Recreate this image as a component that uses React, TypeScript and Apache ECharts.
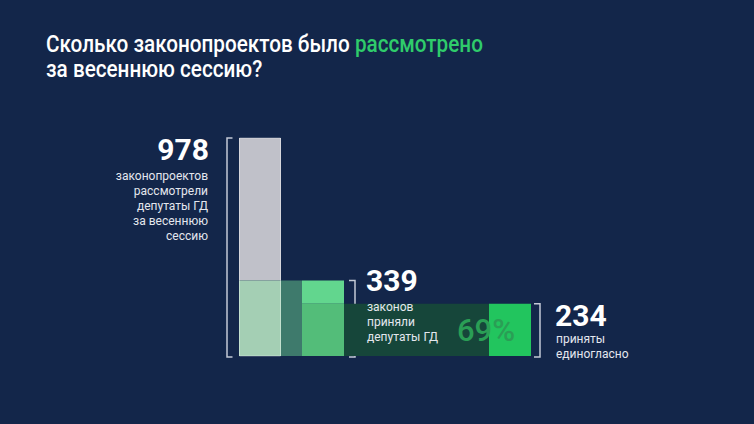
import React, { useEffect, useRef } from "react";
import * as echarts from "echarts";

const categories = ["рассмотрено", "принято", "единогласно"];
const values = [978, 339, 234];
const shareLabel = "69%";
const numberLabels = ["978", "339", "234"];
const captions = [
  ["законопроектов", "рассмотрели", "депутаты ГД", "за весеннюю", "сессию"],
  ["законов", "приняли", "депутаты ГД"],
  ["приняты", "единогласно"],
];

const BG = "#13264a";
const FONT = "Roboto, 'Noto Sans', sans-serif";

export default function App() {
  const ref = useRef<HTMLDivElement>(null);
  useEffect(() => {
    document.body.style.margin = "0";
    const chart = echarts.init(ref.current!, null, { renderer: "svg" });

    const rect = (api: any, x0: number, x1: number, v0: number, v1: number, style: any) => {
      const p0 = api.coord([x0, v0]);
      const p1 = api.coord([x1, v1]);
      return {
        type: "rect",
        shape: { x: p0[0], y: p1[1], width: p1[0] - p0[0], height: p0[1] - p1[1] },
        style,
      };
    };
    const bracket = (api: any, xEdge: number, xTick: number, v: number) => {
      const top = api.coord([xEdge, v]);
      const bot = api.coord([xEdge, 0]);
      const tx = api.coord([xTick, 0])[0];
      return {
        type: "polyline",
        shape: {
          points: [
            [tx, top[1]],
            [top[0], top[1]],
            [bot[0], bot[1] + 1],
            [tx, bot[1] + 1],
          ],
        },
        style: { fill: "none", stroke: "#c3c9d6", lineWidth: 1.5 },
      };
    };

    const renderItem = (params: any, api: any) => {
      const i = params.dataIndex;
      const v = api.value(1);
      if (i === 0) {
        return {
          type: "group",
          children: [
            rect(api, 239, 281, values[1], v, { fill: "#c0c1c9" }),
            rect(api, 239, 281, 0, values[1], { fill: "#a4cfb4" }),
            rect(api, 239.5, 280.5, 0, v, { fill: "none", stroke: "rgba(255,255,255,0.35)", lineWidth: 1 }),
            bracket(api, 227, 232.5, v),
          ],
        };
      }
      if (i === 1) {
        return {
          type: "group",
          children: [
            rect(api, 281, 302, 0, v, { fill: "#3e7a6c" }),
            rect(api, 302, 344, values[2], v, { fill: "#62d68e" }),
            rect(api, 302, 344, 0, values[2], { fill: "#53bd79" }),
            bracket(api, 355, 349, v),
          ],
        };
      }
      return {
        type: "group",
        children: [
          rect(api, 344, 489, 0, v, { fill: "#16463a" }),
          rect(api, 489, 531, 0, v, { fill: "#22c55e" }),
          bracket(api, 540, 534, v),
        ],
      };
    };

    const smallText = (x: number, y: number, lines: string[], align: string) => ({
      type: "text",
      x,
      y,
      z: 100,
      style: {
        text: lines.join("\n"),
        fill: "#e4e7ee",
        font: `400 12px ${FONT}`,
        lineHeight: 15,
        align,
        verticalAlign: "top",
      },
    });
    const bigNumber = (x: number, y: number, text: string, align: string) => ({
      type: "text",
      x,
      y,
      z: 100,
      style: {
        text,
        fill: "#ffffff",
        font: `700 30px ${FONT}`,
        lineHeight: 22,
        align,
        verticalAlign: "middle",
      },
    });

    chart.setOption({
      animation: false,
      backgroundColor: BG,
      grid: { left: 0, right: 0, top: 133.1, bottom: 68 },
      xAxis: { type: "value", min: 0, max: 754, show: false },
      yAxis: { type: "value", min: 0, max: 1000, show: false },
      series: [
        {
          type: "custom",
          name: "законопроекты",
          clip: false,
          renderItem,
          data: values.map((v, i) => ({ name: categories[i], value: [i, v] })),
        },
      ],
      graphic: [
        {
          type: "text",
          x: 46,
          y: 44,
          z: 100,
          scaleX: 0.9,
          style: {
            text: "{w|Сколько законопроектов было }{g|рассмотрено}",
            verticalAlign: "middle",
            rich: {
              w: { fill: "#ffffff", font: `500 23px ${FONT}` },
              g: { fill: "#2fcc6b", font: `500 23px ${FONT}` },
            },
          },
        },
        {
          type: "text",
          x: 46,
          y: 69,
          z: 100,
          scaleX: 0.9,
          style: {
            text: "за весеннюю сессию?",
            fill: "#ffffff",
            font: `500 23px ${FONT}`,
            verticalAlign: "middle",
          },
        },
        bigNumber(209, 149.5, numberLabels[0], "right"),
        smallText(208, 168, captions[0], "right"),
        bigNumber(366, 280.5, numberLabels[1], "left"),
        smallText(367, 299, captions[1], "left"),
        bigNumber(555, 315.5, numberLabels[2], "left"),
        smallText(556, 331, captions[2], "left"),
        {
          type: "text",
          x: 486,
          y: 330,
          z: 100,
          style: {
            text: shareLabel,
            fill: "#2a9e55",
            font: `500 31px ${FONT}`,
            align: "center",
            verticalAlign: "middle",
          },
        },
      ],
    });
    return () => chart.dispose();
  }, []);
  return <div ref={ref} style={{ width: 754, height: 424 }} />;
}
